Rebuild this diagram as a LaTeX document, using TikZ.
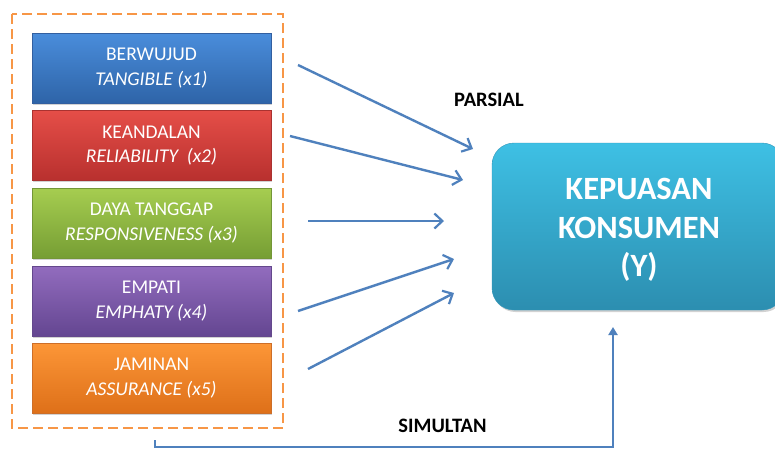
\documentclass[tikz,border=0pt]{standalone}
\usepackage{fontspec}
\setmainfont{Carlito}
\usetikzlibrary{arrows.meta,shadows}
\definecolor{dashor}{HTML}{F79646}
\definecolor{arrblue}{HTML}{4F81BD}
\definecolor{bluet}{RGB}{74,141,219}\definecolor{blueb}{RGB}{46,100,168}\definecolor{blued}{RGB}{50,95,160}
\definecolor{redt}{RGB}{229,78,72}\definecolor{redb}{RGB}{184,48,46}\definecolor{redd}{RGB}{170,50,48}
\definecolor{grnt}{RGB}{166,205,80}\definecolor{grnb}{RGB}{118,158,52}\definecolor{grnd}{RGB}{115,150,55}
\definecolor{purt}{RGB}{146,108,190}\definecolor{purb}{RGB}{100,70,145}\definecolor{purd}{RGB}{100,72,140}
\definecolor{orat}{RGB}{252,150,55}\definecolor{orab}{RGB}{222,112,25}\definecolor{orad}{RGB}{205,110,40}
\definecolor{cyat}{RGB}{62,192,228}\definecolor{cyab}{RGB}{44,142,176}\definecolor{cyad}{RGB}{50,150,185}
\begin{document}
\begin{tikzpicture}[x=1pt,y=-1pt,
  dimbox/.style={rectangle, minimum width=239pt, minimum height=70pt, inner sep=0pt,
    align=center, text=white, font=\fontsize{19.5}{24.5}\selectfont,
    drop shadow={shadow xshift=1pt,shadow yshift=-1.5pt,opacity=0.35}},
  flow/.style={draw=arrblue, line width=2.4pt, -{Straight Barb[length=8pt,width=15pt,line width=2.2pt]}},
  lbl/.style={font=\fontsize{20.5}{22}\selectfont\bfseries, text=black}]
\useasboundingbox (0,0) rectangle (775,448);
\fill[white] (0,0) rectangle (775,448);
\begin{scope}
\clip (0,0) rectangle (775,448);
% dashed frame
\draw[dashor, line width=2pt, dash pattern=on 10pt off 5pt] (12,14) rectangle (283,428);
% dimension boxes
\node[dimbox, top color=bluet, bottom color=blueb, draw=blued] (b1) at (151.5,68) {BERWUJUD\\\itshape TANGIBLE (x1)};
\node[dimbox, top color=redt, bottom color=redb, draw=redd] (b2) at (151.5,145.5) {KEANDALAN\\\itshape RELIABILITY~ (x2)};
\node[dimbox, top color=grnt, bottom color=grnb, draw=grnd] (b3) at (151.5,223) {DAYA TANGGAP\\\itshape RESPONSIVENESS (x3)};
\node[dimbox, top color=purt, bottom color=purb, draw=purd] (b4) at (151.5,301) {EMPATI\\\itshape EMPHATY (x4)};
\node[dimbox, top color=orat, bottom color=orab, draw=orad] (b5) at (151.5,378) {JAMINAN\\\itshape ASSURANCE (x5)};
% dependent variable
\node[rectangle, rounded corners=22pt, minimum width=292pt, minimum height=167pt, inner sep=0pt,
  top color=cyat, bottom color=cyab, draw=cyad,
  drop shadow={shadow xshift=1.5pt,shadow yshift=-2pt,opacity=0.35}] (y) at (638,226.5) {};
\node[align=center, text=white, inner sep=0pt,
  font=\fontsize{32.5}{38.5}\selectfont\bfseries] (ytext) at (639,230) {KEPUASAN\\KONSUMEN\\(Y)};
% arrow end coordinates
\coordinate (s1) at (298,65);  \coordinate (e1) at (473,149);
\coordinate (s2) at (290,136); \coordinate (e2) at (463,180);
\coordinate (s3) at (308,221); \coordinate (e3) at (444,221);
\coordinate (s4) at (298,311); \coordinate (e4) at (454,259);
\coordinate (s5) at (308,369); \coordinate (e5) at (454,293);
\draw[flow] (s1) -- (e1);
\draw[flow] (s2) -- (e2);
\draw[flow] (s3) -- (e3);
\draw[flow] (s4) -- (e4);
\draw[flow] (s5) -- (e5);
% simultaneous path
\coordinate (t0) at (155,440);
\coordinate (t1) at (155,447);
\coordinate (t2) at (613,447);
\coordinate (t3) at (613,327);
\draw[draw=arrblue, line width=2.4pt, -{Triangle[length=8pt,width=9pt]}] (t0) -- (t1) -- (t2) -- (t3);
\node[lbl] (parsial) at (489,100) {PARSIAL};
\node[lbl] (simultan) at (442.5,425.5) {SIMULTAN};
\end{scope}
\end{tikzpicture}
\end{document}
